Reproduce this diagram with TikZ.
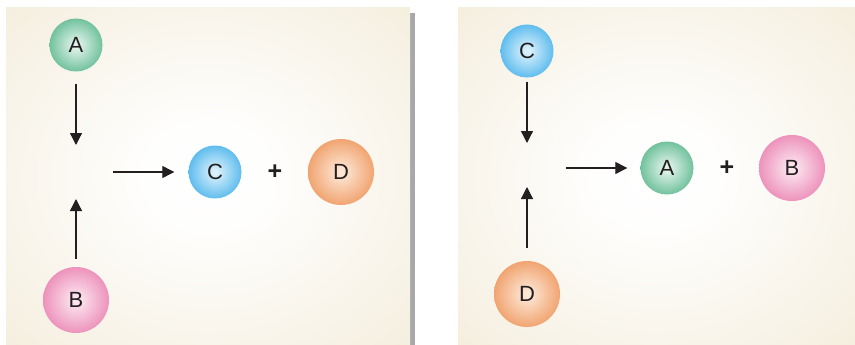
\documentclass[tikz,border=0pt]{standalone}
\usepackage{fontspec}
\setmainfont{Liberation Sans}
\usetikzlibrary{arrows.meta}

\definecolor{panelbg}{RGB}{237,226,198}
\definecolor{shadowgray}{RGB}{168,168,168}
\definecolor{inkblack}{RGB}{35,31,32}
\definecolor{greenout}{RGB}{70,174,126}
\definecolor{greenin}{RGB}{226,244,236}
\definecolor{pinkout}{RGB}{231,114,167}
\definecolor{pinkin}{RGB}{252,230,240}
\definecolor{blueout}{RGB}{48,168,232}
\definecolor{bluein}{RGB}{218,241,252}
\definecolor{orangeout}{RGB}{236,138,74}
\definecolor{orangein}{RGB}{253,231,213}
\colorlet{ballin}{white}
\colorlet{ballout}{black}

\pgfdeclareradialshading[ballin,ballout]{ball}{\pgfpoint{0bp}{0bp}}{%
  color(0bp)=(ballin); color(2bp)=(ballin); color(34bp)=(ballout); color(50bp)=(ballout)}
\pgfdeclareradialshading{glow}{\pgfpoint{0bp}{0bp}}{%
  color(0bp)=(white); color(8bp)=(white!96!panelbg);
  color(40bp)=(panelbg!65!white); color(55bp)=(panelbg); color(75bp)=(panelbg)}

\tikzset{
  ball/.style n args={3}{shape=circle, inner sep=0pt, minimum size=#1,
    /utils/exec={\colorlet{ballin}{#2}\colorlet{ballout}{#3}},
    shading=ball, text=inkblack, font=\fontsize{22pt}{26pt}\selectfont},
  small ball/.style 2 args={ball={53pt}{#1}{#2}},
  big ball/.style 2 args={ball={66pt}{#1}{#2}},
  plussign/.style={text=inkblack, font=\fontsize{25pt}{28pt}\selectfont\bfseries},
  react/.style={-{Triangle[length=12pt,width=12pt]}, line width=1.3pt, color=inkblack},
}

\begin{document}
\begin{tikzpicture}[x=1pt, y=-1pt]

	\useasboundingbox (0,0) rectangle (855,345);
	\fill[shadowgray] (410,13) rectangle (415,345);
	\path[shading=glow] (6,8) rectangle (410,345);
	\path[shading=glow] (458,8) rectangle (855,345);

	% left panel
	\node[small ball={greenin}{greenout}]   (a1) at (76, 45)   {A};
	\node[big ball={pinkin}{pinkout}]       (b1) at (76, 300)  {B};
	\node[small ball={bluein}{blueout}]     (c1) at (215, 172) {C};
	\node[plussign]                         (p1) at (275, 172) {+};
	\node[big ball={orangein}{orangeout}]   (d1) at (341, 172) {D};
	\coordinate (mix1) at (76, 172);

	\path[react] (a1) edge[shorten <=12pt, shorten >=27pt] (mix1);
	\path[react] (b1) edge[shorten <=8pt, shorten >=27pt] (mix1);
	\path[react] (mix1) edge[shorten <=37pt, shorten >=14pt] (c1);

	% right panel
	\node[small ball={bluein}{blueout}]     (c2) at (527, 51)  {C};
	\node[big ball={orangein}{orangeout}]   (d2) at (527, 294) {D};
	\node[small ball={greenin}{greenout}]   (a2) at (667, 168) {A};
	\node[plussign]                         (p2) at (727, 168) {+};
	\node[big ball={pinkin}{pinkout}]       (b2) at (792, 168) {B};
	\coordinate (mix2) at (527, 168);

	\path[react] (c2) edge[shorten <=4pt, shorten >=25pt] (mix2);
	\path[react] (d2) edge[shorten <=13pt, shorten >=19pt] (mix2);
	\path[react] (mix2) edge[shorten <=39pt, shorten >=13pt] (a2);

\end{tikzpicture}
\end{document}
